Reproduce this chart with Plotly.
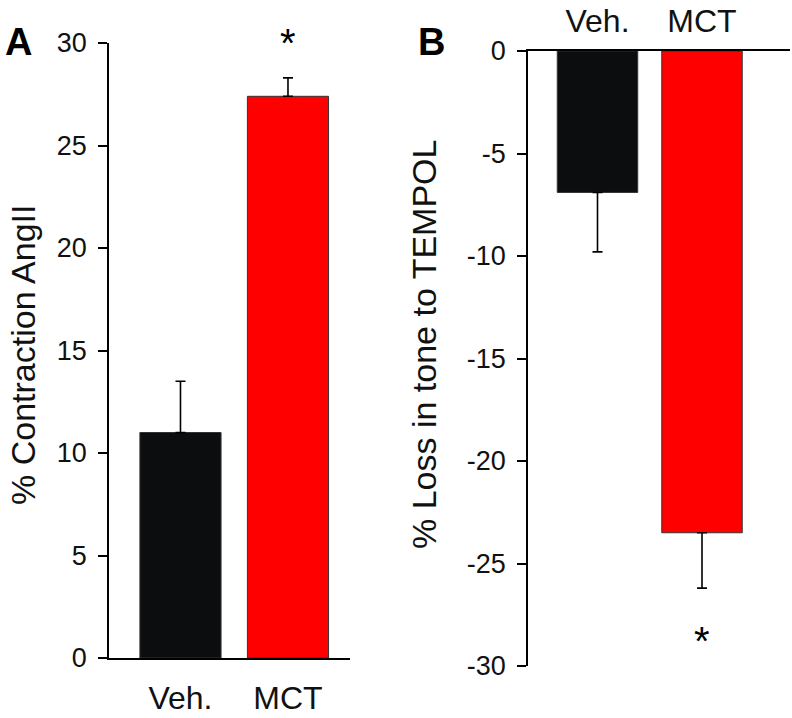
import plotly.graph_objects as go

groups = ["Veh.", "MCT"]
colors = ["#0b0d0f", "#fe0000"]

# panel A: % contraction to AngII
contraction = [11.0, 27.4]
contraction_sem = [2.5, 0.9]
a_ticks = [0, 5, 10, 15, 20, 25, 30]

# panel B: % loss in tone to TEMPOL
tone_loss = [-6.9, -23.5]
tone_loss_sem = [2.9, 2.7]
b_ticks = [0, -5, -10, -15, -20, -25, -30]

FONT = "Liberation Sans, Arial, sans-serif"
W, H = 792, 718


def xf(px):
    return px / W


def yf(py):
    return 1 - py / H


fig = go.Figure()
fig.add_trace(go.Bar(
    x=groups, y=contraction, width=0.755, xaxis="x", yaxis="y",
    marker=dict(color=colors, line=dict(color="#333333", width=1)),
    error_y=dict(type="data", symmetric=False, array=contraction_sem,
                 arrayminus=[0, 0], color="black", thickness=1.6, width=5),
))
fig.add_trace(go.Bar(
    x=groups, y=tone_loss, width=0.77, xaxis="x2", yaxis="y2",
    marker=dict(color=colors, line=dict(color="#333333", width=1)),
    error_y=dict(type="data", symmetric=False, array=[0, 0],
                 arrayminus=tone_loss_sem, color="black", thickness=1.6, width=5),
))

axis_common = dict(showline=True, linecolor="black", linewidth=1.5,
                   showgrid=False, zeroline=False, automargin=False,
                   tickfont=dict(family=FONT, size=27, color="#111111"))
cat_font = dict(family=FONT, size=32, color="#111111")

fig.update_layout(
    width=W, height=H,
    margin=dict(l=0, r=0, t=0, b=0),
    paper_bgcolor="white", plot_bgcolor="white",
    showlegend=False,
    xaxis=dict(axis_common, domain=[xf(109), xf(350)], range=[-0.665, 1.577],
               ticks="", anchor="y", ticklabelstandoff=11, tickfont=cat_font),
    yaxis=dict(axis_common, domain=[yf(658), yf(43)], range=[0, 30],
               tickvals=a_ticks, ticktext=[str(t) for t in a_ticks],
               ticks="outside", ticklen=9, tickwidth=1.5, tickcolor="black",
               ticklabelstandoff=6, anchor="x"),
    xaxis2=dict(axis_common, domain=[xf(528), xf(790)], range=[-0.665, 1.842],
                ticks="", side="top", anchor="y2", ticklabelstandoff=4,
                tickfont=cat_font),
    yaxis2=dict(axis_common, domain=[yf(666), yf(51)], range=[-30, 0],
                tickvals=b_ticks, ticktext=[str(t) for t in b_ticks],
                ticks="outside", ticklen=9, tickwidth=1.5, tickcolor="black",
                ticklabelstandoff=6, anchor="x2"),
)

# asterisks
fig.add_annotation(x="MCT", y=yf(43), xref="x", yref="paper", text="*",
                   showarrow=False, font=dict(family=FONT, size=40, color="black"),
                   yanchor="middle")
fig.add_annotation(x="MCT", y=yf(641), xref="x2", yref="paper", text="*",
                   showarrow=False, font=dict(family=FONT, size=40, color="black"),
                   yanchor="middle")

# y-axis titles
fig.add_annotation(x=xf(23), y=yf(355), xref="paper", yref="paper",
                   text="% Contraction AngII", textangle=-90, showarrow=False,
                   xanchor="center", yanchor="middle",
                   font=dict(family=FONT, size=34, color="#111111"))
fig.add_annotation(x=xf(424), y=yf(345), xref="paper", yref="paper",
                   text="% Loss in tone to TEMPOL", textangle=-90, showarrow=False,
                   xanchor="center", yanchor="middle",
                   font=dict(family=FONT, size=34, color="#111111"))

# panel letters
for letter, px in [("A", 3), ("B", 416)]:
    fig.add_annotation(x=xf(px), y=yf(19), xref="paper", yref="paper",
                       text="<b>%s</b>" % letter, showarrow=False, xanchor="left",
                       font=dict(family=FONT, size=38, color="black"))

# drop the default page margin so the figure sits at the window's corner
fig.write_html("out.html", config={"displayModeBar": False},
               post_script="document.body.style.margin='0';")
